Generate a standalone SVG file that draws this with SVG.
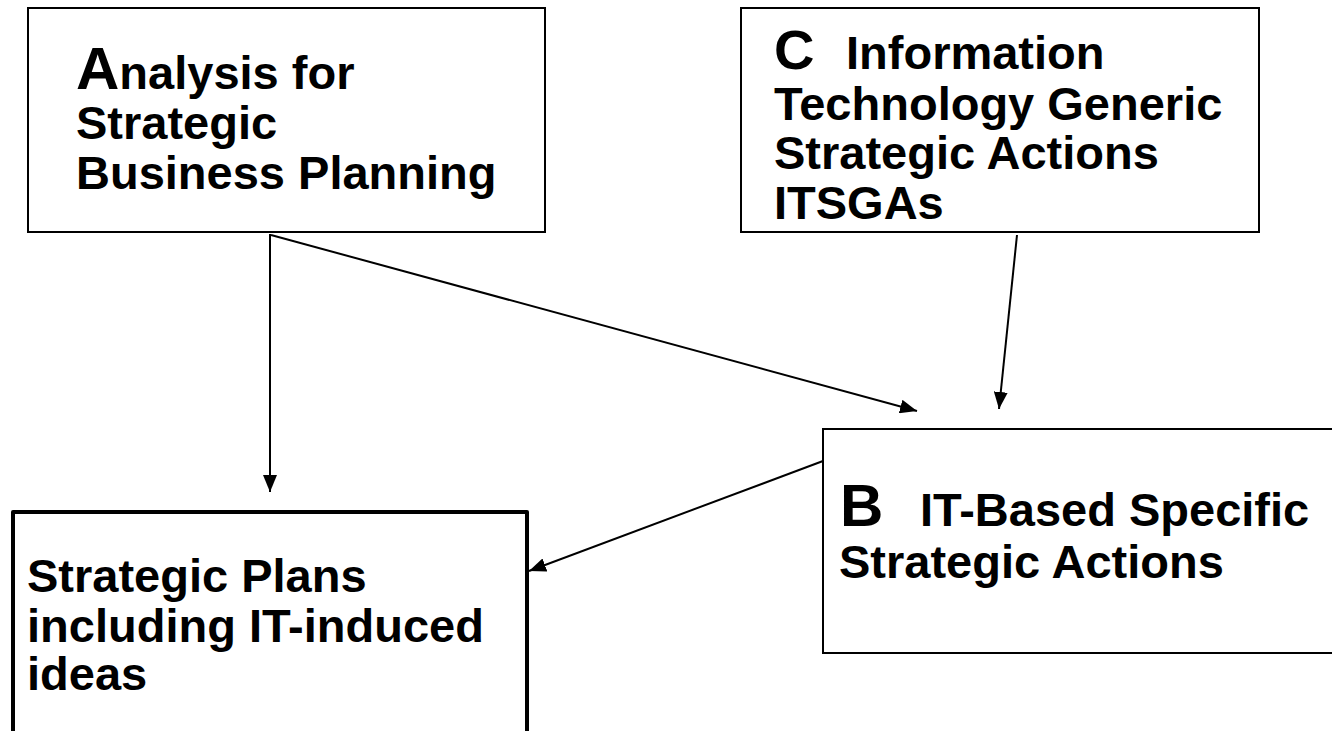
<svg xmlns="http://www.w3.org/2000/svg" width="1332" height="731" viewBox="0 0 1332 731">
<style>
.box{fill:#fff;stroke:#000;stroke-width:2}
.thick{stroke-width:4;stroke-linejoin:round}
.t{font-family:"Liberation Sans",Arial,sans-serif;font-weight:bold;font-size:47px;fill:#000}
.big{font-size:60px}
.bigc{font-size:56px}
.con{stroke:#000;stroke-width:2;fill:none;marker-end:url(#ah)}
</style>
<defs>
<marker id="ah" markerUnits="userSpaceOnUse" markerWidth="18" markerHeight="14" refX="17" refY="7" orient="auto">
<path d="M0,0 L17,7 L0,14 Z" fill="#000"/>
</marker>
</defs>
<rect width="1332" height="731" fill="#fff"/>
<g id="nodeA">
<rect class="box" x="28" y="8" width="517" height="224"/>
<text class="t" x="76" y="89"><tspan class="big">A</tspan>nalysis for</text>
<text class="t" x="76" y="139">Strategic</text>
<text class="t" x="76" y="189">Business Planning</text>
</g>
<g id="nodeC">
<rect class="box" x="741" y="8" width="518" height="224"/>
<text class="t" x="774" y="69"><tspan class="bigc">C</tspan><tspan x="846">Information</tspan></text>
<text class="t" x="774" y="120">Technology Generic</text>
<text class="t" x="774" y="169">Strategic Actions</text>
<text class="t" x="774" y="219">ITSGAs</text>
</g>
<g id="nodeB">
<rect class="box" x="823" y="429" width="540" height="224"/>
<text class="t" x="840" y="526"><tspan class="big">B</tspan><tspan x="920">IT-Based Specific</tspan></text>
<text class="t" x="839" y="578">Strategic Actions</text>
</g>
<g id="nodeD">
<rect class="box thick" x="13" y="512" width="514" height="260"/>
<text class="t" x="27" y="592">Strategic Plans</text>
<text class="t" x="27" y="642">including IT-induced</text>
<text class="t" x="27" y="690">ideas</text>
</g>
<g id="connectors">
<line class="con" x1="270" y1="234" x2="270" y2="492"/>
<line class="con" x1="271" y1="235" x2="917" y2="411"/>
<line class="con" x1="1017" y1="235" x2="999" y2="409"/>
<line class="con" x1="823" y1="461" x2="529" y2="571"/>
</g>
</svg>
